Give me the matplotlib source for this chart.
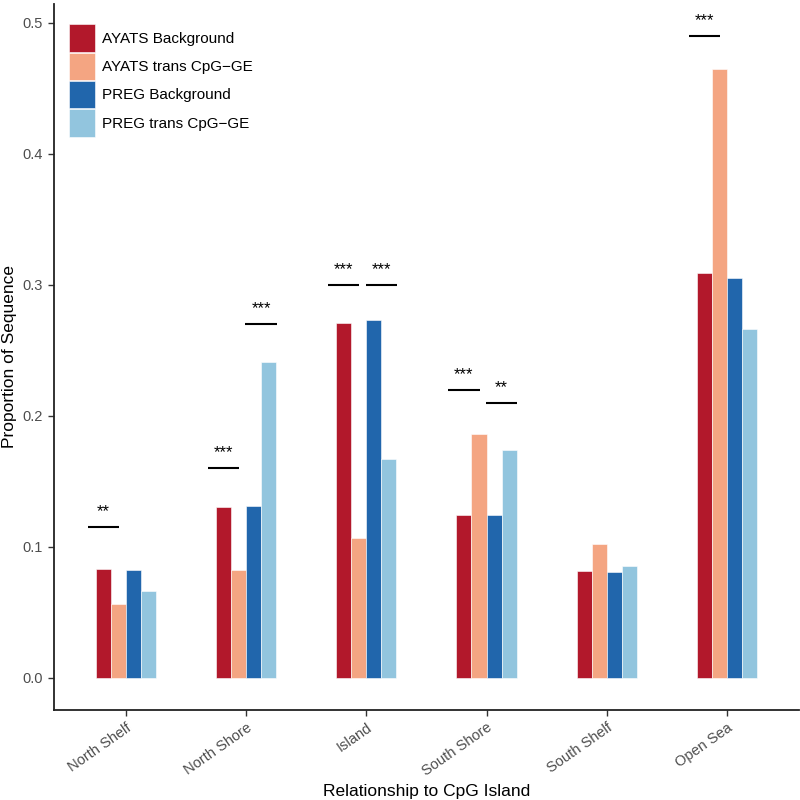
import numpy as np
import matplotlib.pyplot as plt

plt.rcParams['font.family'] = ['Liberation Sans', 'DejaVu Sans']

regions = ["North Shelf", "North Shore", "Island", "South Shore", "South Shelf", "Open Sea"]
series = ["AYATS Background", "AYATS trans CpG\u2212GE", "PREG Background", "PREG trans CpG\u2212GE"]
colors = ["#B2182B", "#F4A582", "#2166AC", "#92C5DE"]

ayats_bg    = [0.083, 0.1305, 0.271, 0.124, 0.0817, 0.309]
ayats_trans = [0.0565, 0.0824, 0.107, 0.186, 0.102, 0.465]
preg_bg     = [0.0824, 0.131, 0.273, 0.1245, 0.081, 0.305]
preg_trans  = [0.0664, 0.241, 0.167, 0.174, 0.0855, 0.266]

# significance marks: (region index, which comparison, bar height, label)
sig_region = [0, 1, 1, 2, 2, 3, 3, 5]
sig_pair   = ["AYATS", "AYATS", "PREG", "AYATS", "PREG", "AYATS", "PREG", "AYATS"]
sig_y      = [0.115, 0.160, 0.270, 0.300, 0.300, 0.220, 0.210, 0.490]
sig_label  = ["**", "***", "***", "***", "***", "***", "**", "***"]

fig = plt.figure(figsize=(8, 8), dpi=100)
ax = fig.add_axes([0.067, 0.1125, 0.932, 0.8825])

x = np.arange(len(regions))
w = 0.125
vals = [ayats_bg, ayats_trans, preg_bg, preg_trans]
for i, (v, c, lab) in enumerate(zip(vals, colors, series)):
    ax.bar(x + (i - 1.5) * w, v, width=w, color=c, label=lab,
           edgecolor="white", linewidth=0.4)

offsets = {"AYATS": -0.1875, "PREG": 0.125}
half = 0.13
for r, p, yv, lab in zip(sig_region, sig_pair, sig_y, sig_label):
    cx = r + offsets[p]
    ax.plot([cx - half, cx + half], [yv, yv], color="black", lw=1.5,
            solid_capstyle="butt")
    ax.text(cx, yv + 0.006, lab, ha="center", va="bottom", fontsize=12)

ax.set_xlim(-0.6, len(regions) - 0.4)
ax.set_ylim(-0.0245, 0.5145)
ax.set_xticks(x)
ax.set_xticklabels(regions, rotation=35, ha="right", rotation_mode="anchor",
                   fontsize=10.5, color="#4D4D4D")
ax.set_yticks([0, 0.1, 0.2, 0.3, 0.4, 0.5])
ax.set_yticklabels(["0.0", "0.1", "0.2", "0.3", "0.4", "0.5"], fontsize=10.5,
                   color="#4D4D4D")
ax.tick_params(length=4, width=1, color="#333333")
for s in ["top", "right"]:
    ax.spines[s].set_visible(False)
for s in ["left", "bottom"]:
    ax.spines[s].set_linewidth(1.3)
    ax.spines[s].set_color("#222222")

ax.set_xlabel("Relationship to CpG Island", fontsize=12.5)
ax.set_ylabel("Proportion of Sequence", fontsize=12.5)

ax.legend(loc="upper left", bbox_to_anchor=(0.0, 0.993), frameon=False,
          fontsize=11, handlelength=1.7, handleheight=2.4,
          labelspacing=0.05, handletextpad=0.5, borderaxespad=0.6)

fig.savefig("out.png", dpi=100)
